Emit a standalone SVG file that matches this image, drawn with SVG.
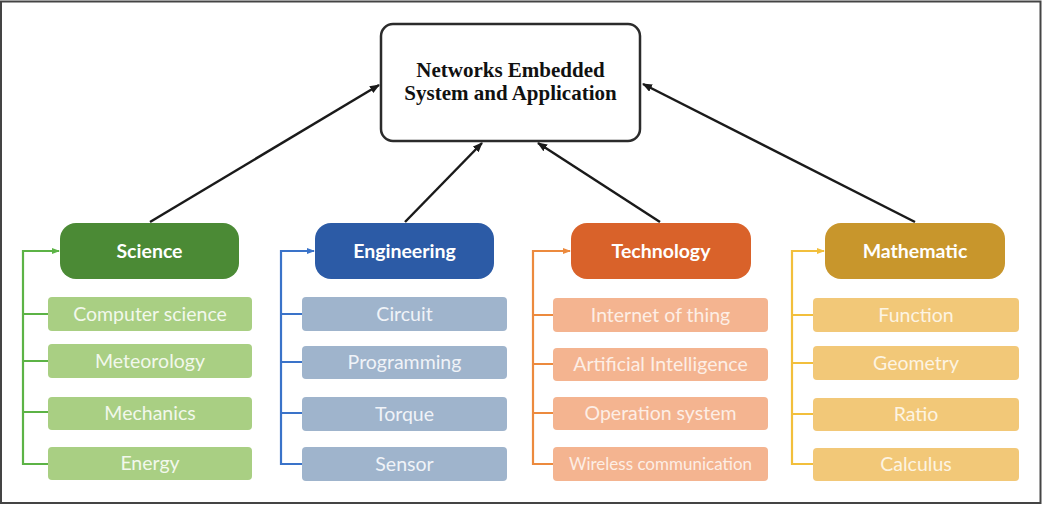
<svg xmlns="http://www.w3.org/2000/svg" width="1046" height="510" viewBox="0 0 1046 510">
<defs>
<marker id="ah" markerWidth="10" markerHeight="8" refX="9" refY="4" orient="auto" markerUnits="userSpaceOnUse">
<path d="M0,0 L10,4 L0,8 Z" fill="#1a1a1a"/>
</marker>
<marker id="mg" markerWidth="8" markerHeight="8" refX="7" refY="4" orient="auto" markerUnits="userSpaceOnUse"><path d="M0,1 L8,4 L0,7 Z" fill="#5cb346"/></marker>
<marker id="mb" markerWidth="8" markerHeight="8" refX="7" refY="4" orient="auto" markerUnits="userSpaceOnUse"><path d="M0,1 L8,4 L0,7 Z" fill="#3a73c9"/></marker>
<marker id="mo" markerWidth="8" markerHeight="8" refX="7" refY="4" orient="auto" markerUnits="userSpaceOnUse"><path d="M0,1 L8,4 L0,7 Z" fill="#ec8a3e"/></marker>
<marker id="my" markerWidth="8" markerHeight="8" refX="7" refY="4" orient="auto" markerUnits="userSpaceOnUse"><path d="M0,1 L8,4 L0,7 Z" fill="#f2bf3c"/></marker>
</defs>
<style>
.main{fill:#ffffff;stroke:#2b2b2b;stroke-width:2.5}
.mt{font-family:"Liberation Serif","Times New Roman",serif;font-weight:bold;font-size:21px;fill:#111;text-anchor:middle}
.hd{font-family:Lato,"Open Sans",sans-serif;font-weight:bold;font-size:19.5px;fill:#ffffff;text-anchor:middle}
.sb{font-family:Lato,"Open Sans",sans-serif;font-size:19.5px;text-anchor:middle}
.arr{stroke:#1a1a1a;stroke-width:2.5;fill:none;marker-end:url(#ah)}
.br{fill:none;stroke-width:2.2}
</style>
<rect x="1" y="1.5" width="1039.5" height="501.5" fill="#ffffff" stroke="#444" stroke-width="2"/>

<g id="center">
<rect class="main" x="381" y="24" width="259" height="117" rx="12"/>
<text class="mt" x="510.5" y="77">Networks Embedded</text>
<text class="mt" x="510.5" y="100">System and Application</text>
</g>

<g id="connectors">
<line class="arr" x1="150" y1="222" x2="379" y2="85"/>
<line class="arr" x1="405" y1="222" x2="482" y2="143"/>
<line class="arr" x1="660" y1="222" x2="538" y2="143"/>
<line class="arr" x1="915" y1="222" x2="643" y2="84"/>
<path class="br" stroke="#5cb346" d="M48,314 H23 M48,361 H23 M48,412 H23 M48,464 H23 V251 H59" marker-end="url(#mg)"/>
<path class="br" stroke="#3a73c9" d="M302,314 H281 M302,362 H281 M302,413 H281 M302,464 H281 V251 H314" marker-end="url(#mb)"/>
<path class="br" stroke="#ec8a3e" d="M553,315 H533 M553,364 H533 M553,413 H533 M553,464 H533 V251 H570" marker-end="url(#mo)"/>
<path class="br" stroke="#f2bf3c" d="M813,315 H792 M813,363 H792 M813,414 H792 M813,464 H792 V251 H824" marker-end="url(#my)"/>
</g>

<g id="science">
<rect x="60" y="223" width="179" height="56" rx="16" fill="#4b8a35"/>
<text class="hd" x="149.5" y="258">Science</text>
</g>
<g id="computer-science"><rect x="48" y="297" width="204" height="34" rx="4" fill="#a9cf83"/><text class="sb" fill="#f2f8ec" x="150" y="321">Computer science</text></g>
<g id="meteorology"><rect x="48" y="344" width="204" height="34" rx="4" fill="#a9cf83"/><text class="sb" fill="#f2f8ec" x="150" y="368">Meteorology</text></g>
<g id="mechanics"><rect x="48" y="397" width="204" height="33" rx="4" fill="#a9cf83"/><text class="sb" fill="#f2f8ec" x="150" y="420">Mechanics</text></g>
<g id="energy"><rect x="48" y="447" width="204" height="33" rx="4" fill="#a9cf83"/><text class="sb" fill="#f2f8ec" x="150" y="470">Energy</text></g>

<g id="engineering">
<rect x="315" y="223" width="179" height="56" rx="16" fill="#2c5ba6"/>
<text class="hd" x="404.5" y="258">Engineering</text>
</g>
<g id="circuit"><rect x="302" y="297" width="205" height="34" rx="4" fill="#9fb4cc"/><text class="sb" fill="#f0f3f8" x="404.5" y="321">Circuit</text></g>
<g id="programming"><rect x="302" y="346" width="205" height="33" rx="4" fill="#9fb4cc"/><text class="sb" fill="#f0f3f8" x="404.5" y="369">Programming</text></g>
<g id="torque"><rect x="302" y="397" width="205" height="34" rx="4" fill="#9fb4cc"/><text class="sb" fill="#f0f3f8" x="404.5" y="421">Torque</text></g>
<g id="sensor"><rect x="302" y="447" width="205" height="34" rx="4" fill="#9fb4cc"/><text class="sb" fill="#f0f3f8" x="404.5" y="471">Sensor</text></g>

<g id="technology">
<rect x="571" y="223" width="180" height="56" rx="16" fill="#d9622a"/>
<text class="hd" x="661" y="258">Technology</text>
</g>
<g id="internet-of-thing"><rect x="553" y="298" width="215" height="34" rx="4" fill="#f4b490"/><text class="sb" fill="#fdeee5" x="660.5" y="322">Internet of thing</text></g>
<g id="artificial-intelligence"><rect x="553" y="348" width="215" height="33" rx="4" fill="#f4b490"/><text class="sb" fill="#fdeee5" x="660.5" y="371">Artificial Intelligence</text></g>
<g id="operation-system"><rect x="553" y="397" width="215" height="33" rx="4" fill="#f4b490"/><text class="sb" fill="#fdeee5" x="660.5" y="420">Operation system</text></g>
<g id="wireless-communication"><rect x="553" y="447" width="215" height="34" rx="4" fill="#f4b490"/><text class="sb" fill="#fdeee5" x="660.5" y="470" style="font-size:17px">Wireless communication</text></g>

<g id="mathematic">
<rect x="825" y="223" width="180" height="56" rx="16" fill="#c8962c"/>
<text class="hd" x="915" y="258">Mathematic</text>
</g>
<g id="function"><rect x="813" y="298" width="206" height="34" rx="4" fill="#f2c878"/><text class="sb" fill="#fdf4e2" x="916" y="322">Function</text></g>
<g id="geometry"><rect x="813" y="346" width="206" height="34" rx="4" fill="#f2c878"/><text class="sb" fill="#fdf4e2" x="916" y="370">Geometry</text></g>
<g id="ratio"><rect x="813" y="398" width="206" height="33" rx="4" fill="#f2c878"/><text class="sb" fill="#fdf4e2" x="916" y="421">Ratio</text></g>
<g id="calculus"><rect x="813" y="448" width="206" height="33" rx="4" fill="#f2c878"/><text class="sb" fill="#fdf4e2" x="916" y="471">Calculus</text></g>
</svg>
